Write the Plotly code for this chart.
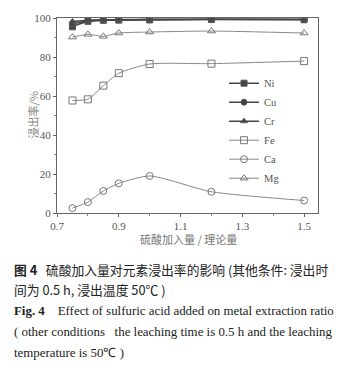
import plotly.graph_objects as go

x = [0.75, 0.80, 0.85, 0.90, 1.00, 1.20, 1.50]
ni = [95.5, 98.3, 98.8, 98.9, 99.0, 99.2, 99.1]
cu = [97.0, 98.6, 99.0, 99.1, 99.2, 99.3, 99.2]
cr = [98.2, 98.8, 99.1, 99.2, 99.3, 99.4, 99.3]
fe = [57.7, 58.3, 65.3, 71.7, 76.4, 76.6, 77.9]
ca = [2.5, 5.6, 11.3, 15.2, 19.0, 10.9, 6.4]
mg = [90.2, 91.6, 90.6, 92.3, 92.8, 93.3, 92.3]

names = ["Ni", "Cu", "Cr", "Fe", "Ca", "Mg"]
series = [ni, cu, cr, fe, ca, mg]
symbols = ["square", "circle", "triangle-up", "square-open", "circle-open", "triangle-up-open"]
col = "#444444"

fig = go.Figure()
for n, s, sym in zip(names, series, symbols):
    filled = "open" not in sym
    fig.add_trace(go.Scatter(
        x=x, y=s, name=n, mode="lines+markers",
        line=dict(color=col if filled else "#888888", width=1.5 if filled else 1, shape="spline", smoothing=0.6),
        marker=dict(symbol=sym, size=6 if filled else 7, color=col if filled else "#777777",
                    line=dict(width=1, color="#555555" if filled else "#777777")),
    ))

fig.update_layout(
    width=352, height=375,
    margin=dict(l=57, r=34, t=15, b=162),
    paper_bgcolor="white", plot_bgcolor="white",
    font=dict(family="Liberation Serif, serif", size=11, color="#555555"),
    showlegend=True,
    legend=dict(x=0.64, y=0.74, xanchor="left", yanchor="top", bgcolor="rgba(0,0,0,0)",
                font=dict(size=10.5, color="#555555", family="Liberation Serif, serif"),
                itemwidth=30, tracegroupgap=0),
    xaxis=dict(range=[0.7, 1.545], tickvals=[0.7, 0.9, 1.1, 1.3, 1.5],
               ticktext=["0.7", "0.9", "1.1", "1.3", "1.5"],
               showgrid=False, zeroline=False, showline=True, linecolor="#666666", linewidth=1,
               mirror=True, ticks="outside", ticklen=3, tickcolor="#666666",
               minor=dict(ticks="outside", ticklen=2, dtick=0.1, tickcolor="#888888")),
    yaxis=dict(range=[0, 100], tickvals=[0, 20, 40, 60, 80, 100],
               showgrid=False, zeroline=False, showline=True, linecolor="#666666", linewidth=1,
               mirror=True, ticks="outside", ticklen=3, tickcolor="#666666",
               minor=dict(ticks="outside", ticklen=2, dtick=10, tickcolor="#888888")),
)

cjk = "Noto Sans CJK SC"

def px_y(yp):
    return (213 - yp) / 198.0

def px_x(xp):
    return (xp - 57) / 261.0

anns = [
    dict(text="浸出率/%", x=px_x(32), y=px_y(114), textangle=-90, font=dict(family=cjk, size=11, color="#888888")),
    dict(text="硫酸加入量 / 理论量", x=px_x(188), y=px_y(239), font=dict(family=cjk, size=11, color="#777777")),
]
for a in anns:
    a.update(xref="paper", yref="paper", showarrow=False, xanchor="center", yanchor="middle")
    fig.add_annotation(**a)

captions = [
    ("<b>图 4</b>   硫酸加入量对元素浸出率的影响 (其他条件: 浸出时", 270, cjk, 12.8),
    ("间为 0.5 h, 浸出温度 50℃ )", 291, cjk, 12.8),
    ("<b>Fig. 4</b>    Effect of sulfuric acid added on metal extraction ratio", 312, "Liberation Serif, serif", 12.9),
    ("( other conditions   the leaching time is 0.5 h and the leaching", 334, "Liberation Serif, serif", 12.9),
    ("temperature is 50℃ )", 355, "Liberation Serif, serif", 12.9),
]
for t, yp, fam, sz in captions:
    fig.add_annotation(text=t, xref="paper", yref="paper", x=px_x(12), y=px_y(yp),
                       xanchor="left", yanchor="middle", showarrow=False,
                       font=dict(family=fam, size=sz, color="#222222"))

fig.write_html("out.html")
